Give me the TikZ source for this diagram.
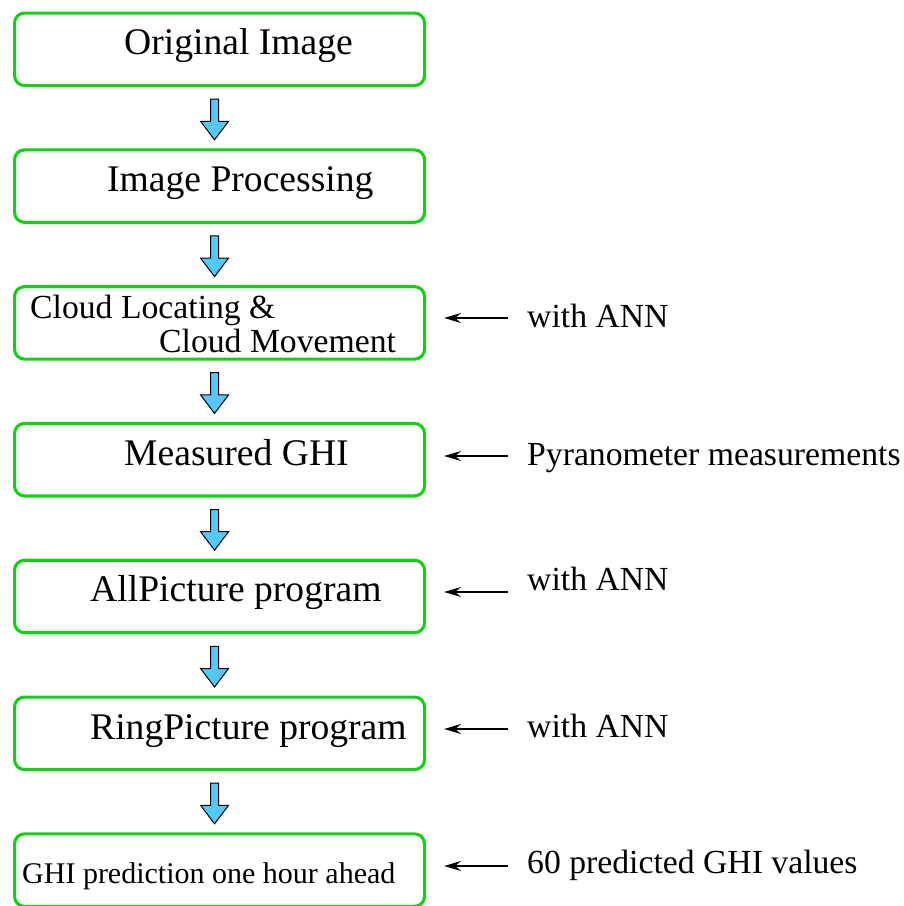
\documentclass[tikz,border=0pt]{standalone}
\usepackage{fontspec}
\setmainfont{Liberation Serif}
\usetikzlibrary{arrows.meta,calc}
\definecolor{boxgreen}{RGB}{20,208,20}
\definecolor{arrowblue}{RGB}{85,200,250}
\begin{document}
\begin{tikzpicture}[x=1pt,y=-1pt,
 box/.style={draw=boxgreen, line width=3.1pt, rounded corners=10pt, minimum width=410pt, minimum height=72.5pt, inner sep=0pt, anchor=north west},
 big/.style={font=\fontsize{37.6}{40}\selectfont, anchor=base west, inner sep=0pt},
 mid/.style={font=\fontsize{33.7}{34}\selectfont, anchor=base west, inner sep=0pt},
 small/.style={font=\fontsize{30}{32}\selectfont, anchor=base west, inner sep=0pt},
 sidearrow/.style={-{Stealth[length=17pt,width=10pt,inset=6pt]}, line width=1.5pt, shorten >=18pt},
 blockarrow/.style={draw=black, line width=1pt, fill=arrowblue, line join=miter}]
\useasboundingbox (0,0) rectangle (904,906);
% boxes
\node[box] (b1) at (13,11.5) {};
\node[box] (b2) at (13,148.3) {};
\node[box] (b3) at (13,285.1) {};
\node[box] (b4) at (13,421.9) {};
\node[box] (b5) at (13,558.7) {};
\node[box] (b6) at (13,695.5) {};
\node[box] (b7) at (13,832.3) {};
% box texts
\node[big] (t1) at (124,54) {Original Image};
\node[big] (t2) at (107,191) {Image Processing};
\node[mid] (t3a) at (30,318) {Cloud Locating \&};
\node[mid] (t3b) at (159,352) {Cloud Movement};
\node[big] (t4) at (124,465) {Measured GHI};
\node[big] (t5) at (90,601) {AllPicture program};
\node[big] (t6) at (90,739) {RingPicture program};
\node[small] (t7) at (22,883) {GHI prediction one hour ahead};
% side labels
\node[mid] (l3) at (527,327) {with ANN};
\node[mid] (l4) at (527,465) {Pyranometer measurements};
\node[mid] (l5) at (527,590) {with ANN};
\node[mid] (l6) at (527,737) {with ANN};
\node[mid] (l7) at (527,873) {60 predicted GHI values};
% side arrows
\coordinate (s3) at (508,318);
\coordinate (s4) at (508,456);
\coordinate (s5) at (508,592);
\coordinate (s6) at (508,729);
\coordinate (s7) at (508,866);
\foreach \s/\b in {s3/b3,s4/b4,s5/b5,s6/b6,s7/b7}{
  \draw[sidearrow] (\s) -- (\s -| \b.east);
}
% block arrows
\foreach \a/\b in {b1/b2,b2/b3,b3/b4,b4/b5,b5/b6,b6/b7}{
  \draw[blockarrow] ($(\a.south)+(-9,12)$) -- ($(\a.south)+(-1,12)$)
    -- ($(\b.north)+(-1,-27)$) -- ($(\b.north)+(9,-27)$)
    -- ($(\b.north)+(-5,-8.5)$) -- ($(\b.north)+(-19,-27)$)
    -- ($(\b.north)+(-9,-27)$) -- cycle;
}
\end{tikzpicture}
\end{document}
